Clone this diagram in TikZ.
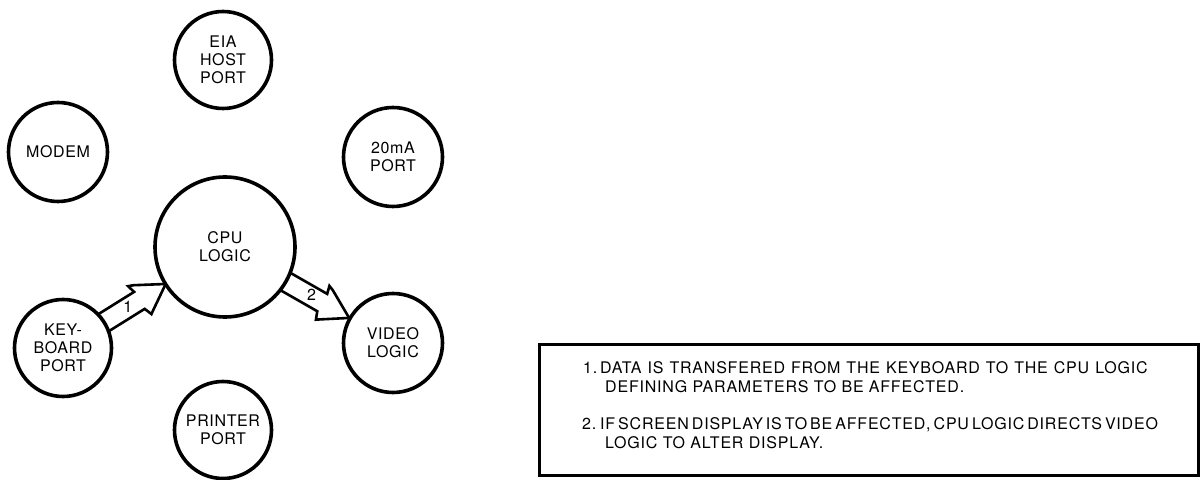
\documentclass[tikz,border=0pt]{standalone}
\usepackage{fontspec}
\setmainfont{TeX Gyre Heros}
\newfontfamily\portfont[LetterSpace=4]{TeX Gyre Heros}
\newfontfamily\notefont[LetterSpace=5]{TeX Gyre Heros}
\usetikzlibrary{calc,backgrounds}

% fat zig-zag arrow between two circles: from, to, tail, tip, label
\newcommand{\zaparrow}[5]{%
  \pgfmathanglebetweenpoints{\pgfpointanchor{#1}{center}}{\pgfpointanchor{#2}{center}}%
  \let\zapangle\pgfmathresult
  \begin{scope}[shift={(#1)}, rotate=\zapangle]
    \pgfmathsetmacro{\zb}{#4-31}
    \begin{scope}[on background layer]
      \draw[zap] (#3,-10) -- (\zb,-10) -- (\zb+3,-18) -- (\zb+6,-16) -- (#4,0)
        -- (\zb+3,16) -- (\zb-2,18) -- (\zb,10) -- (#3,10) -- cycle;
    \end{scope}
    \node[num] (lbl#5) at (#4-44,1) {#5};
  \end{scope}}

\begin{document}
\begin{tikzpicture}[x=1pt, y=1pt,
    port/.style={circle, draw, line width=3.6pt, fill=white, minimum size=97pt, inner sep=0pt,
      align=center, font=\portfont\fontsize{16}{18}\selectfont},
    zap/.style={draw, line width=2.6pt, fill=white, line join=miter},
    num/.style={font=\fontsize{16}{16}\selectfont, inner sep=0pt},
    note/.style={anchor=base west, inner sep=0pt, font=\notefont\fontsize{16}{19}\selectfont}
]
\useasboundingbox (0,0) rectangle (1204,479);

% Ports round the CPU
\node[port] (eia) at (223,419) {EIA\\HOST\\PORT};
\node[port, minimum size=99pt] (modem) at (58,327) {MODEM};
\node[port, minimum size=99pt] (twenty) at (393,322) {20mA\\PORT};
\node[port, minimum size=140pt] (cpu) at (225,232) {CPU\\LOGIC};
\node[port] (kbd) at (63,131) {KEY-\\BOARD\\PORT};
\node[port, minimum size=99pt] (video) at (393,136) {VIDEO\\LOGIC};
\node[port] (printer) at (223,49) {PRINTER\\PORT};

% Data flow
\zaparrow{kbd}{cpu}{44}{121}{1}
\zaparrow{cpu}{video}{64}{143}{2}

% Notes
\node[draw, line width=3pt, minimum width=659pt, minimum height=130pt, anchor=south west, inner sep=0pt]
  (notes) at (538,2.5) {};
\node[note] (n1) at (583,105.5) {1.};
\node[note] (n1a) at (600,105.5) {\spaceskip=6pt DATA IS TRANSFERED FROM THE KEYBOARD TO THE CPU LOGIC};
\node[note] (n1b) at (605,86.5) {DEFINING PARAMETERS TO BE AFFECTED.};
\node[note] (n2) at (582,49.5) {2.};
\node[note] (n2a) at (600,49.5) {\spaceskip=3pt IF SCREEN DISPLAY IS TO BE AFFECTED, CPU LOGIC DIRECTS VIDEO};
\node[note] (n2b) at (605,30.5) {LOGIC TO ALTER DISPLAY.};

\end{tikzpicture}
\end{document}
